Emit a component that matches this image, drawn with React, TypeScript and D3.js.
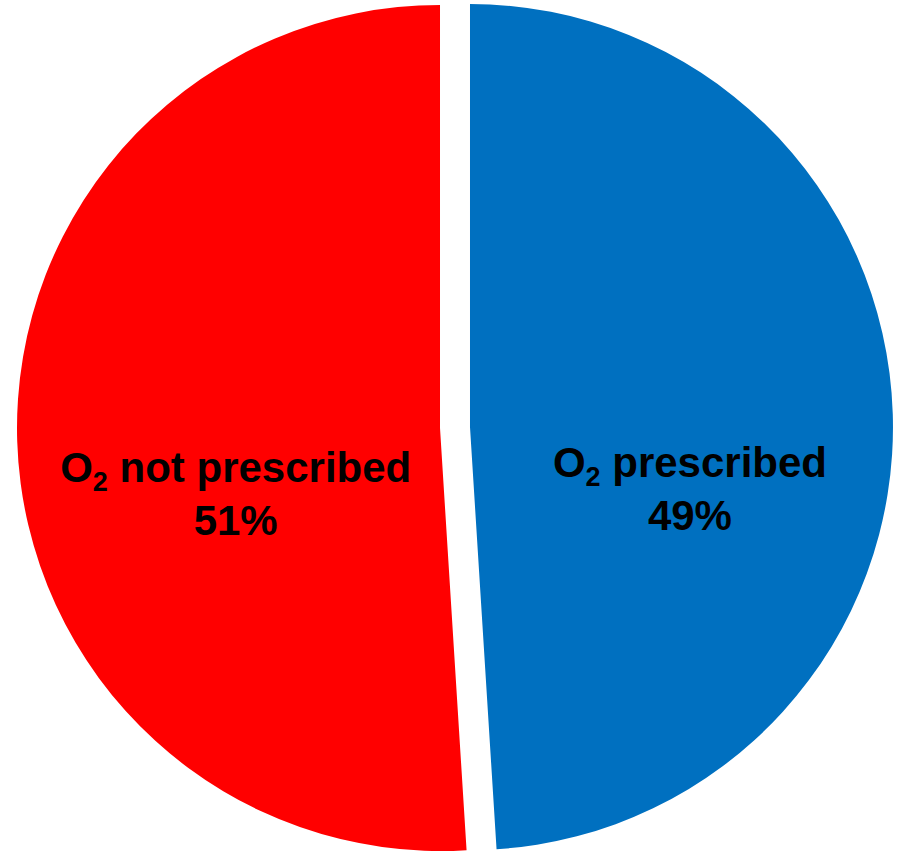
import React from "react";
import * as d3 from "d3";

const categories = ["O2 prescribed", "O2 not prescribed"];
const values = [49, 51];
const colors = ["#0070C0", "#FF0000"];
const labelMain = ["prescribed", "not prescribed"];

const W = 902;
const H = 852;
const CX = 455;
const CY = 427.5;
const R = 423;
const EXPLODE = 15;

// label layout offsets relative to exploded slice centre (fraction of radius, baseline px)
const labelDX = [0.52, -0.483];
const labelBase = [50, 54];
const lineGap = 53;

export default function App() {
  const pie = d3
    .pie<number>()
    .sort(null)
    .startAngle(0)
    .endAngle(2 * Math.PI)
    .value((d) => d);
  const arcs = pie(values);
  const arc = d3.arc<d3.PieArcDatum<number>>().innerRadius(0).outerRadius(R);

  return (
    <svg
      width={W}
      height={H}
      style={{ position: "absolute", left: 0, top: 0, background: "#fff" }}
    >
      {arcs.map((a, i) => {
        const mid = (a.startAngle + a.endAngle) / 2;
        const ox = CX + EXPLODE * Math.sin(mid);
        const oy = CY - EXPLODE * Math.cos(mid);
        const lx = ox + labelDX[i] * R;
        const ly = oy + labelBase[i];
        return (
          <g key={categories[i]}>
            <path d={arc(a) || ""} transform={`translate(${ox},${oy})`} fill={colors[i]} />
            <text
              x={lx}
              y={ly}
              textAnchor="middle"
              fontFamily="'Liberation Sans', Arial, sans-serif"
              fontWeight="bold"
              fontSize={42}
              fill="#000"
            >
              <tspan>O</tspan>
              <tspan dy={9} fontSize={27}>2</tspan>
              <tspan dy={-9}>{" " + labelMain[i]}</tspan>
            </text>
            <text
              x={lx}
              y={ly + lineGap}
              textAnchor="middle"
              fontFamily="'Liberation Sans', Arial, sans-serif"
              fontWeight="bold"
              fontSize={42}
              fill="#000"
            >
              {`${values[i]}%`}
            </text>
          </g>
        );
      })}
    </svg>
  );
}
